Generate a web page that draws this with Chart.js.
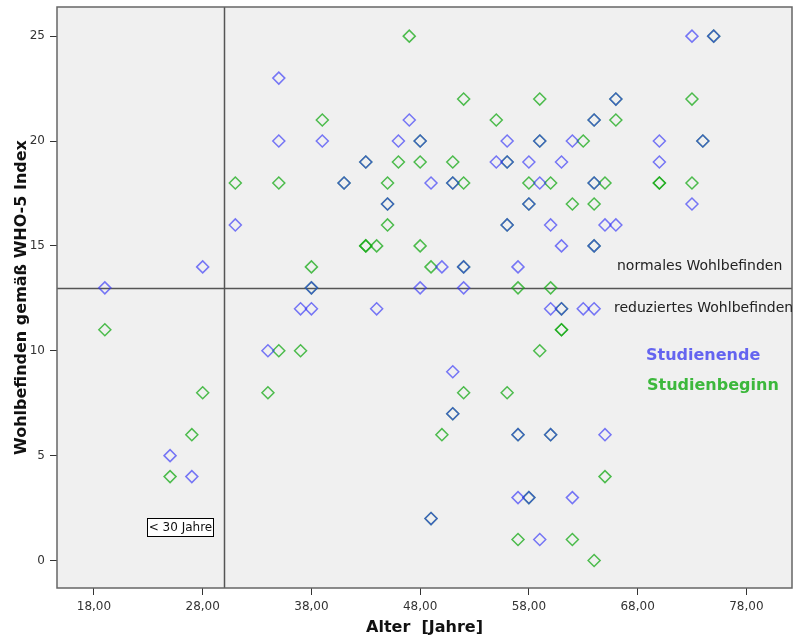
<!DOCTYPE html>
<html>
<head>
<meta charset="utf-8">
<script src="https://cdn.jsdelivr.net/npm/chart.js@4"></script>
<style>
html,body{margin:0;padding:0;background:#fff;}
#wrap{width:793px;height:641px;position:relative;}
</style>
</head>
<body>
<div id="wrap"><canvas id="c" width="793" height="641"></canvas></div>
<script>
// ---- data ----
// Studienende (end of study)
const endAges   = [19,25,27,28,31,34,35,35,37,38,38,39,41,43,44,45,46,47,48,48,49,49,50,51,51,51,52,52,55,56,56,56,57,57,57,58,58,58,59,59,59,60,60,60,61,61,61,62,62,63,64,64,64,64,65,65,66,66,70,70,73,73,74,75];
const endScores = [13, 5, 4,14,16,10,23,20,12,13,12,20,18,19,12,17,20,21,20,13,18, 2,14,18, 9, 7,14,13,19,20,19,16,14, 6, 3,19,17, 3,20,18, 1,16,12, 6,19,15,12,20, 3,12,21,18,15,12,16, 6,22,16,20,19,25,17,20,25];
// Studienbeginn (start of study)
const startAges   = [19,25,27,28,31,34,35,35,37,38,38,39,41,43,43,43,44,45,45,45,46,47,48,48,48,49,49,50,51,51,51,52,52,52,52,55,56,56,56,57,57,57,58,58,58,59,59,59,60,60,60,61,61,61,62,62,63,64,64,64,64,64,65,65,66,66,70,70,73,73,74,75];
const startScores = [11, 4, 6, 8,18, 8,18,10,10,14,13,21,18,19,15,15,15,18,17,16,19,25,20,19,15,14, 2, 6,19,18, 7,22,18,14, 8,21,19,16, 8,13, 6, 1,18,17, 3,22,20,10,18,13, 6,12,11,11,17, 1,20,21,18,17,15, 0,18, 4,22,21,18,18,22,18,20,25];

const xTickValues = [18,28,38,48,58,68,78];
const yTickValues = [0,5,10,15,20,25];
const refAge = 30;     // vertical reference line
const refScore = 13;   // horizontal reference line
const seriesNames = ['Studienende','Studienbeginn'];

const endPts = endAges.map((a,i)=>({x:a,y:endScores[i]}));
const startPts = startAges.map((a,i)=>({x:a,y:startScores[i]}));

Chart.defaults.font.family = "'DejaVu Sans', sans-serif";

const BLUE = 'rgba(51,51,248,0.65)';
const GREEN = 'rgba(21,169,21,0.75)';

const decor = {
  id:'decor',
  beforeDatasetsDraw(chart){
    const {ctx, chartArea:a, scales:{x,y}} = chart;
    ctx.save();
    ctx.strokeStyle = '#555';
    ctx.lineWidth = 1.5;
    const px = Math.round(x.getPixelForValue(refAge))+0.5;
    const py = Math.round(y.getPixelForValue(refScore))+0.5;
    ctx.beginPath();
    ctx.moveTo(px, a.top); ctx.lineTo(px, a.bottom);
    ctx.moveTo(a.left, py); ctx.lineTo(a.right, py);
    ctx.stroke();
    ctx.restore();
  },
  beforeDraw(chart){
    const {ctx, chartArea:a} = chart;
    ctx.save();
    ctx.fillStyle = '#f0f0f0';
    ctx.fillRect(a.left, a.top, a.right-a.left, a.bottom-a.top);
    ctx.restore();
  },
  afterDraw(chart){
    const {ctx, chartArea:a} = chart;
    ctx.save();
    ctx.strokeStyle = '#666';
    ctx.lineWidth = 1.5;
    ctx.strokeRect(a.left, a.top, a.right-a.left, a.bottom-a.top);
    ctx.fillStyle = '#222';
    ctx.font = "14px 'DejaVu Sans'";
    ctx.textBaseline = 'middle';
    ctx.textAlign = 'left';
    ctx.fillText('normales Wohlbefinden', 617, 266);
    ctx.fillText('reduziertes Wohlbefinden', 614, 308);
    ctx.font = "bold 16px 'DejaVu Sans'";
    ctx.fillStyle = '#6464f0';
    ctx.fillText(seriesNames[0], 646, 356);
    ctx.fillStyle = '#3cb83c';
    ctx.fillText(seriesNames[1], 647, 386);
    ctx.fillStyle = '#fff';
    ctx.fillRect(147.5, 518.5, 66, 18);
    ctx.strokeStyle = '#000';
    ctx.lineWidth = 1;
    ctx.strokeRect(147.5, 518.5, 66, 18);
    ctx.fillStyle = '#111';
    ctx.font = "12px 'DejaVu Sans'";
    ctx.textAlign = 'center';
    ctx.fillText('< 30 Jahre', 180.5, 528);
    ctx.restore();
  }
};

function zeroPad(s){ s.paddingTop = 0; s.paddingBottom = 0; s.paddingLeft = 0; s.paddingRight = 0; }

new Chart(document.getElementById('c'), {
  type:'scatter',
  data:{
    datasets:[
      {label:seriesNames[0], data:endPts, order:0,
       pointStyle:'rectRot', pointRadius:6, pointBorderWidth:1.5,
       borderColor:BLUE, backgroundColor:'rgba(0,0,0,0)', pointHoverRadius:6},
      {label:seriesNames[1], data:startPts, order:1,
       pointStyle:'rectRot', pointRadius:6, pointBorderWidth:1.5,
       borderColor:GREEN, backgroundColor:'rgba(0,0,0,0)', pointHoverRadius:6}
    ]
  },
  options:{
    responsive:false,
    animation:false,
    events:[],
    layout:{autoPadding:false, padding:{top:7,right:1,left:0,bottom:0}},
    plugins:{legend:{display:false}, tooltip:{enabled:false}},
    scales:{
      x:{
        type:'linear', min:14.6, max:82.2,
        afterBuildTicks:s=>{ s.ticks = xTickValues.map(v=>({value:v})); },
        afterFit:s=>{ s.height = 53; zeroPad(s); },
        ticks:{color:'#333', font:{size:12}, padding:5, autoSkip:false, maxRotation:0,
               callback:v=>v.toFixed(2).replace('.',',')},
        grid:{display:true, drawOnChartArea:false, drawTicks:true, tickLength:7, color:'#333', lineWidth:1},
        border:{display:false},
        title:{display:true, text:'Alter  [Jahre]', color:'#111',
               font:{size:16, weight:'bold'}, padding:{top:4,bottom:4}}
      },
      y:{
        type:'linear', min:-1.31, max:26.39,
        afterBuildTicks:s=>{ s.ticks = yTickValues.map(v=>({value:v})); },
        afterFit:s=>{ s.width = 57; zeroPad(s); },
        ticks:{color:'#333', font:{size:12}, padding:5, autoSkip:false,
               callback:v=>String(v)},
        grid:{display:true, drawOnChartArea:false, drawTicks:true, tickLength:7, color:'#333', lineWidth:1},
        border:{display:false},
        title:{display:true, text:'Wohlbefinden gemäß WHO-5 Index', color:'#111',
               font:{size:16, weight:'bold'}, padding:{top:12,bottom:4}}
      }
    }
  },
  plugins:[decor]
});
</script>
</body>
</html>
